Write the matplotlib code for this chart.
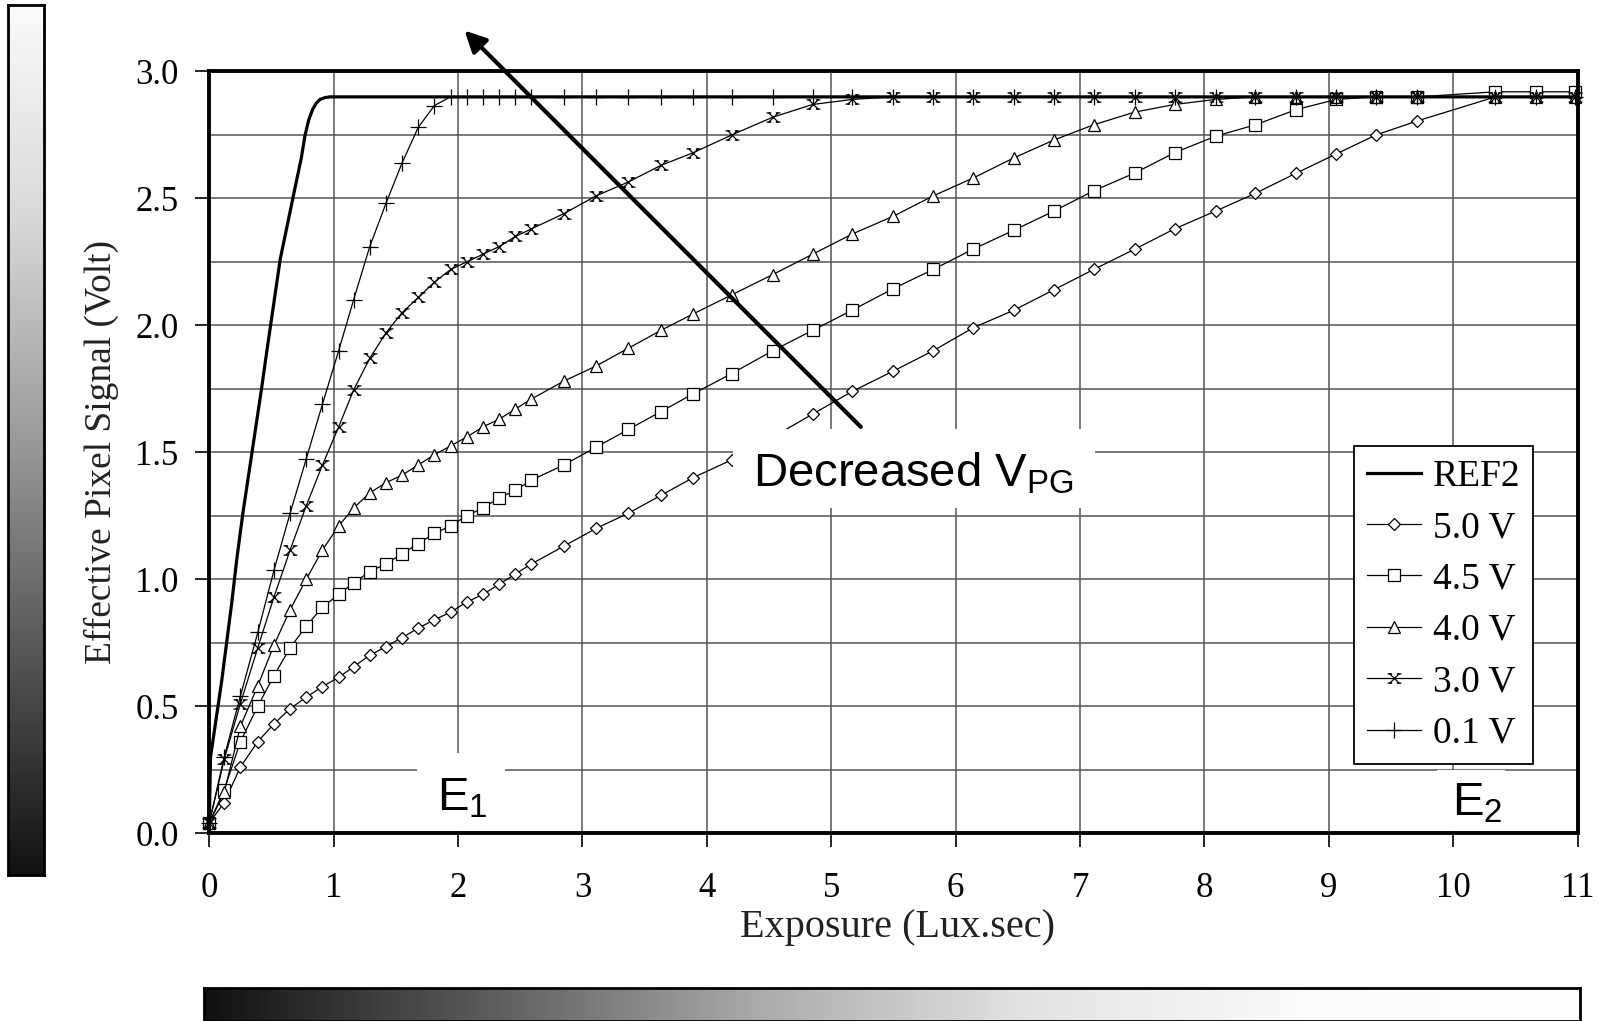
import numpy as np
import matplotlib
matplotlib.use("Agg")
import matplotlib.pyplot as plt
from matplotlib.path import Path
from matplotlib.patches import Rectangle
from matplotlib.colors import LinearSegmentedColormap

plt.rcParams['font.family'] = ['Liberation Serif', 'DejaVu Serif']
plt.rcParams['mathtext.default'] = 'regular'

# data
exposure = [0, 0.12, 0.25, 0.39, 0.52, 0.65, 0.78, 0.91, 1.04, 1.16, 1.29, 1.42, 1.55, 1.68,
            1.81, 1.94, 2.07, 2.2, 2.33, 2.46, 2.59, 2.85, 3.11, 3.37, 3.63, 3.89, 4.2, 4.53,
            4.85, 5.17, 5.5, 5.82, 6.14, 6.47, 6.79, 7.11, 7.44, 7.76, 8.09, 8.41, 8.74, 9.06,
            9.38, 9.71, 10.34, 10.67, 10.98]

v50 = [0.04, 0.12, 0.26, 0.36, 0.43, 0.49, 0.535, 0.577, 0.613, 0.655, 0.70, 0.734, 0.77, 0.807,
       0.84, 0.87, 0.91, 0.94, 0.98, 1.02, 1.06, 1.13, 1.20, 1.26, 1.33, 1.40, 1.47, 1.56,
       1.65, 1.74, 1.82, 1.90, 1.99, 2.06, 2.14, 2.22, 2.30, 2.38, 2.45, 2.52, 2.60, 2.675,
       2.75, 2.805, 2.9, 2.9, 2.9]
v45 = [0.04, 0.17, 0.36, 0.50, 0.62, 0.73, 0.815, 0.89, 0.94, 0.985, 1.03, 1.06, 1.10, 1.14,
       1.18, 1.21, 1.25, 1.28, 1.32, 1.35, 1.39, 1.45, 1.52, 1.59, 1.66, 1.73, 1.81, 1.90,
       1.98, 2.06, 2.145, 2.22, 2.30, 2.375, 2.45, 2.53, 2.60, 2.68, 2.745, 2.79, 2.85, 2.89,
       2.9, 2.9, 2.92, 2.92, 2.92]
v40 = [0.04, 0.16, 0.42, 0.58, 0.74, 0.88, 1.0, 1.115, 1.21, 1.28, 1.34, 1.38, 1.41, 1.45,
       1.49, 1.525, 1.56, 1.60, 1.63, 1.67, 1.71, 1.78, 1.84, 1.91, 1.98, 2.045, 2.12, 2.2,
       2.28, 2.36, 2.43, 2.51, 2.58, 2.66, 2.73, 2.79, 2.84, 2.87, 2.89, 2.9, 2.9, 2.9,
       2.9, 2.9, 2.9, 2.9, 2.9]
v30 = [0.04, 0.29, 0.51, 0.73, 0.93, 1.115, 1.29, 1.45, 1.60, 1.745, 1.87, 1.97, 2.05, 2.11,
       2.17, 2.22, 2.25, 2.28, 2.31, 2.35, 2.38, 2.44, 2.51, 2.565, 2.63, 2.68, 2.75, 2.82,
       2.87, 2.89, 2.9, 2.9, 2.9, 2.9, 2.9, 2.9, 2.9, 2.9, 2.9, 2.9, 2.9, 2.9,
       2.9, 2.9, 2.9, 2.9, 2.9]
v01 = [0.04, 0.30, 0.54, 0.79, 1.035, 1.26, 1.475, 1.69, 1.90, 2.10, 2.31, 2.48, 2.64, 2.78,
       2.866, 2.9, 2.9, 2.9, 2.9, 2.9, 2.9, 2.9, 2.9, 2.9, 2.9, 2.9, 2.9, 2.9,
       2.9, 2.9, 2.9, 2.9, 2.9, 2.9, 2.9, 2.9, 2.9, 2.9, 2.9, 2.9, 2.9, 2.9,
       2.9, 2.9, 2.9, 2.9, 2.9]

ref2_x = [0, 0.01, 0.1, 0.18, 0.22, 0.27, 0.42, 0.46, 0.57, 0.68, 0.74, 0.77, 0.80, 0.83,
          0.86, 0.89, 0.93, 0.97, 11]
ref2_y = [0.04, 0.3, 0.6, 0.905, 1.075, 1.26, 1.75, 1.89, 2.26, 2.52, 2.66, 2.75, 2.81, 2.85,
          2.875, 2.89, 2.897, 2.9, 2.9]

W, H = 1601, 1021
fig = plt.figure(figsize=(W / 100, H / 100), dpi=100)
ax = fig.add_axes([209.3 / W, 188 / H, 1368.2 / W, 761.5 / H])

# x-with-caps marker for the 3.0 V curve
M, L = Path.MOVETO, Path.LINETO
star_verts = [(-1, -1), (1, 1), (-1, 1), (1, -1),
              (-1.5, 1), (-0.5, 1), (0.5, 1), (1.5, 1),
              (-1.5, -1), (-0.5, -1), (0.5, -1), (1.5, -1)]
star = Path(star_verts, [M, L] * 6)

ax.plot(ref2_x, ref2_y, color='black', lw=2.3, label='REF2', clip_on=False, zorder=4)
style = dict(color='black', lw=0.9, mfc='white', mec='black', mew=0.9, clip_on=False, zorder=3)
ax.plot(exposure, v50, marker='D', ms=6.5, label='5.0 V', **style)
ax.plot(exposure, v45, marker='s', ms=8, label='4.5 V', **style)
ax.plot(exposure, v40, marker='^', ms=9, label='4.0 V', **style)
ax.plot(exposure, v30, marker=star, ms=10, label='3.0 V', **style)
ax.plot(exposure, v01, marker='+', ms=11, label='0.1 V', **style)

ax.set_xlim(0, 11)
ax.set_ylim(0, 3.0)
ax.set_xticks(range(0, 12))
ax.set_yticks(np.arange(0, 3.01, 0.5))
ax.set_yticks(np.arange(0, 3.01, 0.25), minor=True)
ax.yaxis.set_major_formatter(matplotlib.ticker.FormatStrFormatter('%.1f'))
ax.grid(True, which='both', color='#555555', lw=1.1, zorder=1)
ax.set_axisbelow(True)
ax.tick_params(axis='y', which='minor', length=0)
ax.tick_params(axis='both', which='major', direction='out', length=10, width=1.2,
               colors='black')
ax.tick_params(axis='y', pad=12, labelsize=25)
ax.tick_params(axis='x', pad=18, labelsize=25)
for s in ax.spines.values():
    s.set_linewidth(2.8)
    s.set_zorder(6)

ax.set_xlabel('Exposure (Lux.sec)', fontsize=29, color='#222222')
ax.xaxis.set_label_coords(0.503, -0.1)
ax.set_ylabel('Effective Pixel Signal (Volt)', fontsize=27, color='#222222')
ax.yaxis.set_label_coords(-0.066, 0.5)

leg = ax.legend(loc='upper left', bbox_to_anchor=(0.8366, 0.508), borderaxespad=0,
                fontsize=27, numpoints=1, handlelength=1.45, labelspacing=0.45,
                handletextpad=0.3, borderpad=0.35, fancybox=False, framealpha=1)
leg.get_frame().set_edgecolor('black')
leg.get_frame().set_linewidth(1.3)
leg.set_zorder(7)

# white boxes behind annotations
def white_box(x0, y0, x1, y1):
    fig.add_artist(Rectangle((x0 / W, 1 - y1 / H), (x1 - x0) / W, (y1 - y0) / H,
                             transform=fig.transFigure, facecolor='white',
                             edgecolor='none', zorder=5))

white_box(733, 429, 1095, 508)
white_box(417, 753, 505, 831)
white_box(1437, 770, 1505, 831)

sans = ['Liberation Sans', 'DejaVu Sans']
fig.text(753 / W, 1 - 486 / H, 'Decreased V$_{PG}$', fontsize=34, family=sans,
         va='baseline', zorder=8)
fig.text(437 / W, 1 - 810 / H, 'E$_1$', fontsize=34, family=sans, va='baseline', zorder=8)
fig.text(1452 / W, 1 - 815 / H, 'E$_2$', fontsize=34, family=sans, va='baseline', zorder=8)

# arrow
ax.annotate('', xy=(464.6, H - 30.6), xycoords='figure pixels',
            xytext=(860.7, H - 426.8), textcoords='figure pixels',
            arrowprops=dict(arrowstyle='-|>', lw=3, color='black', mutation_scale=32,
                            shrinkA=0, shrinkB=0), zorder=9, annotation_clip=False)

# grey gradient bars
grad_v = LinearSegmentedColormap.from_list('gv', ['#111111', '#555555', '#9a9a9a', '#d8d8d8', '#fbfbfb'])
grad_h = LinearSegmentedColormap.from_list('gh', ['#111111', '#5a5a5a', '#aaaaaa', '#e4e4e4', '#fbfbfb', '#ffffff'])

bar_l = fig.add_axes([8 / W, 146 / H, 36 / W, 870 / H])
bar_l.imshow(np.linspace(0, 1, 256)[:, None], aspect='auto', cmap=grad_v, origin='lower')
bar_b = fig.add_axes([204 / W, 0, 1376 / W, 33 / H])
bar_b.imshow(np.linspace(0, 1, 256)[None, :], aspect='auto', cmap=grad_h)
for b in (bar_l, bar_b):
    b.set_xticks([])
    b.set_yticks([])
    for s in b.spines.values():
        s.set_linewidth(2)
        s.set_color('black')

fig.savefig('out.png', dpi=100)
